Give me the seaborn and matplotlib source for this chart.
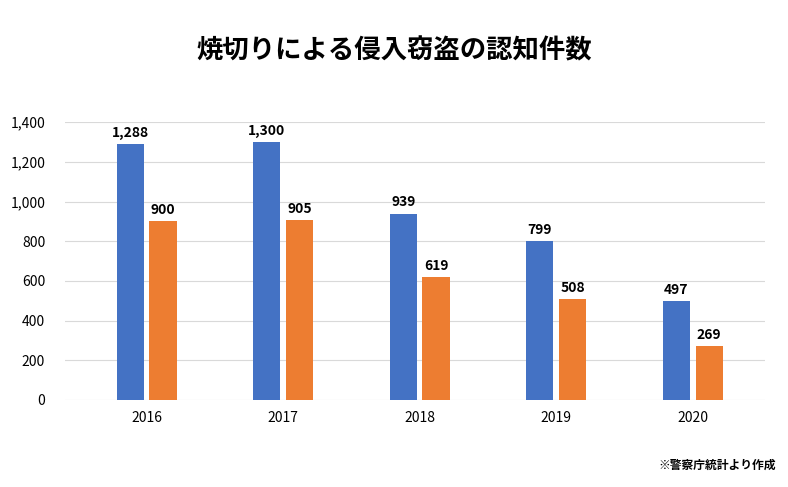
import matplotlib
matplotlib.use("Agg")
import matplotlib.pyplot as plt
import seaborn as sns
import pandas as pd

years = ["2016", "2017", "2018", "2019", "2020"]
series_a = [1288, 1300, 939, 799, 497]
series_b = [900, 905, 619, 508, 269]
yticks = [0, 200, 400, 600, 800, 1000, 1200, 1400]

df = pd.DataFrame({
    "year": years * 2,
    "value": series_a + series_b,
    "series": ["a"] * 5 + ["b"] * 5,
})

plt.rcParams["font.family"] = "Noto Sans CJK JP"
fig = plt.figure(figsize=(7.88, 4.87), dpi=100)
ax = fig.add_axes([0.082, 0.179, 0.889, 0.570])

sns.barplot(data=df, x="year", y="value", hue="series",
            palette=["#4472C4", "#ED7D31"], saturation=1, width=0.48, gap=0.17,
            legend=False, ax=ax)

for c in ax.containers:
    ax.bar_label(c, labels=[f"{v:,.0f}" for v in c.datavalues],
                 padding=3, fontsize=10, fontweight="bold")

ax.set_xlim(-0.60, 4.53)
ax.set_ylim(0, 1400)
ax.set_yticks(yticks)
ax.set_yticklabels([f"{v:,}" for v in yticks], fontsize=10)
ax.tick_params(axis="x", labelsize=10, length=0, pad=8)
ax.tick_params(axis="y", length=0, pad=14)
ax.grid(axis="y", color="#d9d9d9", linewidth=0.8)
ax.set_axisbelow(True)
for s in ax.spines.values():
    s.set_visible(False)
ax.set_xlabel("")
ax.set_ylabel("")

fig.text(0.5, 0.895, "焼切りによる侵入窃盗の認知件数", ha="center", va="center",
         fontsize=19, fontweight="bold")
fig.text(0.985, 0.045, "※警察庁統計より作成", ha="right", va="center",
         fontsize=8.5, fontweight="bold")

fig.savefig("out.png", dpi=100)
